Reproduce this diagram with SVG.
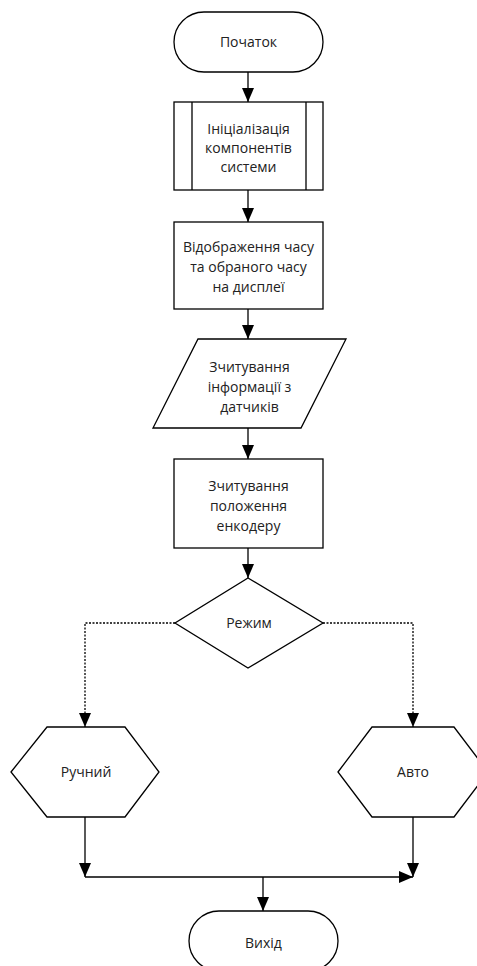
<svg xmlns="http://www.w3.org/2000/svg" width="477" height="966" viewBox="0 0 477 966">
<defs>
<style>
.s{fill:#fff;stroke:#000;stroke-width:1.3}
.t{font-family:"Open Sans","Liberation Sans",sans-serif;font-size:14px;fill:#222;text-anchor:middle}
.c{fill:none;stroke:#000;stroke-width:1.3}
.d{fill:none;stroke:#000;stroke-width:1.3;stroke-dasharray:2 1.5}
</style>
<marker id="a" viewBox="0 0 14 12" refX="14" refY="6" markerWidth="14" markerHeight="12" markerUnits="userSpaceOnUse" orient="auto">
<path d="M0,0 L14,6 L0,12 Z" fill="#000"/>
</marker>
</defs>
<rect width="477" height="966" fill="#fff"/>
<g id="connectors">
<path class="c" d="M248,72 V102" marker-end="url(#a)"/>
<path class="c" d="M248,190 V222" marker-end="url(#a)"/>
<path class="c" d="M248,309 V339" marker-end="url(#a)"/>
<path class="c" d="M248,428 V459" marker-end="url(#a)"/>
<path class="c" d="M248,548 V578" marker-end="url(#a)"/>
<path class="d" d="M175,623 H85 V727" marker-end="url(#a)"/>
<path class="d" d="M323,623 H413 V727" marker-end="url(#a)"/>
<path class="c" d="M85,817 V877" marker-end="url(#a)"/>
<path class="c" d="M413,817 V877" marker-end="url(#a)"/>
<path class="c" d="M85,877 H413" marker-end="url(#a)"/>
<path class="c" d="M263,877 V911" marker-end="url(#a)"/>
</g>
<g id="start">
<rect class="s" x="174" y="12" width="149" height="60" rx="30"/>
<text class="t" x="248.5" y="47">Початок</text>
</g>
<g id="init">
<rect class="s" x="174" y="102" width="149" height="88"/>
<path class="c" d="M192,102 V190 M306,102 V190"/>
<text class="t" x="248.5" y="133.5">Ініціалізація</text>
<text class="t" x="248.5" y="152.5">компонентів</text>
<text class="t" x="248.5" y="171.5">системи</text>
</g>
<g id="display">
<rect class="s" x="174" y="222" width="149" height="87"/>
<text class="t" x="248.5" y="251.5">Відображення часу</text>
<text class="t" x="248.5" y="271.5">та обраного часу</text>
<text class="t" x="248.5" y="291.5">на дисплеї</text>
</g>
<g id="sensors">
<polygon class="s" points="198,339 346,339 301,428 153,428"/>
<text class="t" x="249.5" y="371.5">Зчитування</text>
<text class="t" x="249.5" y="391.5">інформації з</text>
<text class="t" x="249.5" y="411.5">датчиків</text>
</g>
<g id="encoder">
<rect class="s" x="174" y="459" width="149" height="89"/>
<text class="t" x="248.5" y="490.5">Зчитування</text>
<text class="t" x="248.5" y="510.5">положення</text>
<text class="t" x="248.5" y="530.5">енкодеру</text>
</g>
<g id="mode">
<polygon class="s" points="248,578 323,623 248,668 175,623"/>
<text class="t" x="249" y="628">Режим</text>
</g>
<g id="manual">
<polygon class="s" points="11,772 47,727 125,727 159,772 125,817 47,817"/>
<text class="t" x="86" y="777">Ручний</text>
</g>
<g id="auto">
<polygon class="s" points="338,772 372,727 454,727 488,772 454,817 372,817"/>
<text class="t" x="413" y="777">Авто</text>
</g>
<g id="exit">
<rect class="s" x="189" y="911" width="149" height="60" rx="30"/>
<text class="t" x="263.5" y="948">Вихід</text>
</g>
</svg>
